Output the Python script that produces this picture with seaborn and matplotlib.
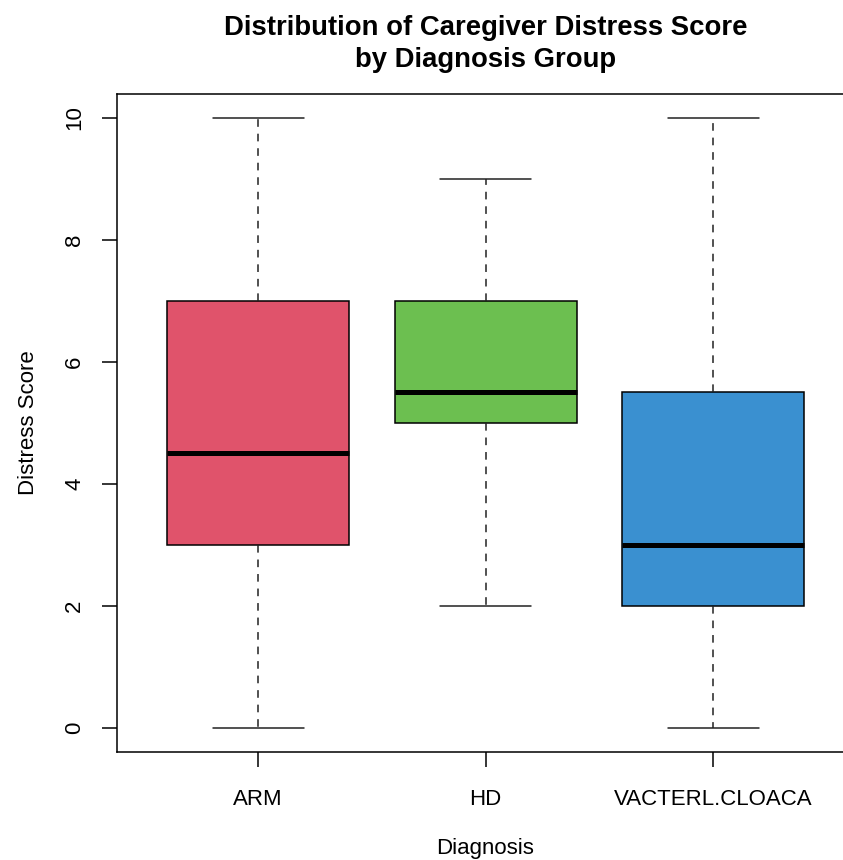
import pandas as pd
import matplotlib
matplotlib.use("Agg")
import matplotlib.pyplot as plt
import seaborn as sns

# distress scores per diagnosis group
groups = ["ARM", "HD", "VACTERL.CLOACA"]
arm_scores = [0, 3, 3, 4, 5, 7, 7, 10]
hd_scores = [2, 5, 5, 5, 6, 7, 7, 9]
vac_scores = [0, 2, 2, 3, 5, 6, 10]
box_colors = ["#E0536B", "#6CBF50", "#3A90D0"]
y_ticks = [0, 2, 4, 6, 8, 10]

df = pd.DataFrame({
    "Diagnosis": ["ARM"] * len(arm_scores) + ["HD"] * len(hd_scores) + ["VACTERL.CLOACA"] * len(vac_scores),
    "Distress": arm_scores + hd_scores + vac_scores,
})

sns.set_style("white")
plt.rcParams["font.family"] = ["Liberation Sans", "DejaVu Sans"]
plt.rcParams["text.color"] = "black"
plt.rcParams["axes.labelcolor"] = "black"

fig = plt.figure(figsize=(8.43, 8.6), dpi=100)
ax = fig.add_axes([0.1388, 0.1256, 0.8743, 0.7656])

sns.boxplot(data=df, x="Diagnosis", y="Distress", hue="Diagnosis", order=groups,
            palette=box_colors, saturation=1, width=0.8, linewidth=1.1, linecolor="black",
            whis=1.5, legend=False, ax=ax,
            medianprops=dict(color="black", linewidth=3.6),
            whiskerprops=dict(linestyle=(0, (5, 4.5)), color="#222222"),
            capprops=dict(color="#222222"))

ax.set_xlim(0.38 - 1, 3.62 - 1)
ax.set_ylim(-0.4, 10.4)
ax.set_yticks(y_ticks)
ax.set_yticklabels([str(v) for v in y_ticks])

for s in ax.spines.values():
    s.set_visible(True)
    s.set_color("black")
    s.set_linewidth(1.1)

ax.tick_params(axis="both", which="both", direction="out", length=11, width=1.1,
               colors="black", labelsize=16, pad=16, left=True, bottom=True)
ax.tick_params(axis="y", labelrotation=90, pad=12)
for lab in ax.get_yticklabels():
    lab.set_va("center")

ax.set_xlabel("Diagnosis", fontsize=16, labelpad=20)
ax.set_ylabel("Distress Score", fontsize=16, labelpad=18)
ax.set_title("Distribution of Caregiver Distress Score\nby Diagnosis Group",
             fontsize=19.8, fontweight="bold", pad=19, linespacing=1.3, color="black")
ax.grid(False)

fig.savefig("out.png", dpi=100)
